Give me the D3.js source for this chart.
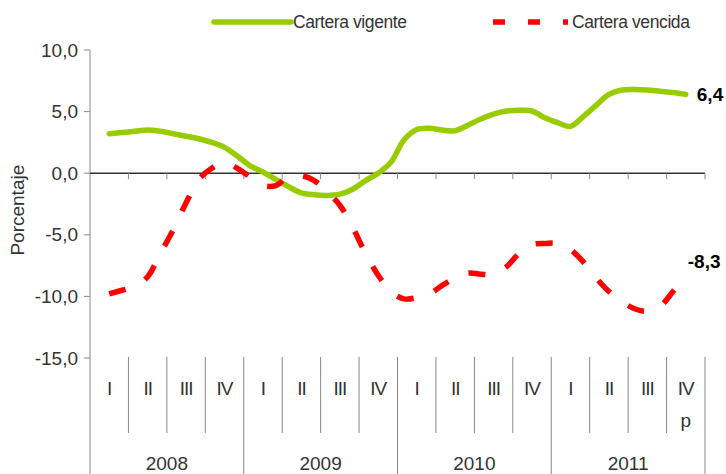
<!DOCTYPE html>
<html>
<head>
<meta charset="utf-8">
<script src="https://cdn.jsdelivr.net/npm/d3@7"></script>
<style>
  body { margin: 0; background: #fff; }
  svg { display: block; font-family: "Liberation Sans", Arial, sans-serif; }
</style>
</head>
<body>
<svg id="chart" width="726" height="474"></svg>
<script>
// monthly points, Feb 2008 .. Nov 2011
const vigente = [
  3.2, 3.3, 3.4, 3.5, 3.4, 3.2, 3.0, 2.8, 2.5, 2.1, 1.4, 0.6,
  0.1, -0.5, -1.1, -1.6, -1.75, -1.8, -1.7, -1.3, -0.6, 0.0, 0.9, 2.7,
  3.55, 3.65, 3.5, 3.45, 3.9, 4.4, 4.8, 5.05, 5.1, 5.05, 4.5, 4.1,
  3.8, 4.6, 5.5, 6.4, 6.75, 6.8, 6.75, 6.65, 6.55, 6.4
];
const vencida = [
  -9.8, -9.5, -9.2, -8.4, -6.5, -4.6, -2.4, -0.5, 0.4, 0.9, 0.4, -0.3,
  -1.0, -1.0, -0.3, -0.2, -0.6, -1.5, -2.6, -4.4, -6.5, -8.3, -9.6, -10.2,
  -10.1, -9.8, -9.1, -8.5, -8.1, -8.2, -8.2, -7.6, -6.5, -5.8, -5.7, -5.7,
  -6.2, -7.2, -8.5, -9.6, -10.4, -11.0, -11.2, -10.8, -9.6, -8.3
];
const years = ["2008", "2009", "2010", "2011"];
const quarters = ["I", "II", "III", "IV"];
const yTicks = [10, 5, 0, -5, -10, -15];
const seriesNames = ["Cartera vigente", "Cartera vencida"];

const svg = d3.select("#chart");
const fmt = v => d3.format(".1f")(v).replace(".", ",").replace("−", "-");

// x in quarters (0..16), y in percent
const x = d3.scaleLinear().domain([0, 16]).range([90, 705]);
const y = d3.scaleLinear().domain([-15, 10]).range([358, 50]);
const tPos = i => 0.5 + i / 3;

// y axis
svg.append("line").attr("x1", 90).attr("x2", 90).attr("y1", y(10)).attr("y2", 474)
  .attr("stroke", "#888").attr("stroke-width", 1);
svg.selectAll(".ytick").data(yTicks).enter().append("line")
  .attr("x1", 84).attr("x2", 90).attr("y1", d => y(d)).attr("y2", d => y(d))
  .attr("stroke", "#888");
svg.selectAll(".ylab").data(yTicks).enter().append("text")
  .attr("x", 78).attr("y", d => y(d)).attr("dy", "0.35em")
  .attr("text-anchor", "end").attr("font-size", 19).attr("fill", "#333")
  .text(fmt);

svg.append("text")
  .attr("transform", `translate(24,${y(-3)}) rotate(-90)`)
  .attr("text-anchor", "middle").attr("font-size", 19).attr("fill", "#333")
  .text("Porcentaje");

// zero line with quarter ticks
svg.append("line").attr("x1", 90).attr("x2", 705).attr("y1", y(0)).attr("y2", y(0))
  .attr("stroke", "#333").attr("stroke-width", 1.5);
svg.selectAll(".xtick").data(d3.range(1, 17)).enter().append("line")
  .attr("x1", d => x(d)).attr("x2", d => x(d))
  .attr("y1", y(0)).attr("y2", y(0) + 6)
  .attr("stroke", "#888");

// category table
const qIdx = d3.range(16);
svg.selectAll(".qsep").data(d3.range(1, 17)).enter().append("line")
  .attr("x1", d => x(d)).attr("x2", d => x(d))
  .attr("y1", 357).attr("y2", d => d % 4 === 0 ? 474 : 433)
  .attr("stroke", "#888");
svg.selectAll(".qlab").data(qIdx).enter().append("text")
  .attr("x", d => x(d + 0.5)).attr("y", 388).attr("dy", "0.35em")
  .attr("text-anchor", "middle").attr("font-size", 19).attr("fill", "#333")
  .attr("letter-spacing", -1)
  .text(d => quarters[d % 4]);
svg.append("text").attr("x", x(15.5)).attr("y", 420).attr("dy", "0.35em")
  .attr("text-anchor", "middle").attr("font-size", 19).attr("fill", "#333").text("p");
svg.selectAll(".ylab2").data(years).enter().append("text")
  .attr("x", (d, i) => x(i * 4 + 2)).attr("y", 463).attr("dy", "0.35em")
  .attr("text-anchor", "middle").attr("font-size", 19).attr("fill", "#333")
  .text(d => d);

// lines
const line = d3.line().x((d, i) => x(tPos(i))).y(d => y(d)).curve(d3.curveCatmullRom.alpha(0.5));
svg.append("path").datum(vigente).attr("d", line)
  .attr("fill", "none").attr("stroke", "#99cc00").attr("stroke-width", 5.5)
  .attr("stroke-linecap", "round").attr("stroke-linejoin", "round");
svg.append("path").datum(vencida).attr("d", line)
  .attr("fill", "none").attr("stroke", "#ff0000").attr("stroke-width", 5.5)
  .attr("stroke-dasharray", "17,22");

// end labels
const last = vigente.length - 1;
svg.append("text").attr("x", x(tPos(last)) + 11).attr("y", y(vigente[last])).attr("dy", "0.35em")
  .attr("font-size", 19).attr("font-weight", "bold").attr("fill", "#000").text(fmt(vigente[last]));
svg.append("text").attr("x", x(tPos(last)) + 2).attr("y", y(vencida[last]) - 14).attr("dy", "0.35em")
  .attr("font-size", 19).attr("font-weight", "bold").attr("fill", "#000").text(fmt(vencida[last]));

// legend
const lg = svg.append("g");
lg.append("line").attr("x1", 214).attr("x2", 291).attr("y1", 22).attr("y2", 22)
  .attr("stroke", "#99cc00").attr("stroke-width", 5.5).attr("stroke-linecap", "round");
lg.append("text").attr("x", 293).attr("y", 22).attr("dy", "0.35em")
  .attr("font-size", 17.5).attr("fill", "#333").attr("letter-spacing", -0.4).text(seriesNames[0]);
lg.append("line").attr("x1", 493).attr("x2", 568).attr("y1", 22).attr("y2", 22)
  .attr("stroke", "#ff0000").attr("stroke-width", 5.5).attr("stroke-dasharray", "12,23");
lg.append("text").attr("x", 572).attr("y", 22).attr("dy", "0.35em")
  .attr("font-size", 17.5).attr("fill", "#333").attr("letter-spacing", -0.4).text(seriesNames[1]);
</script>
</body>
</html>
